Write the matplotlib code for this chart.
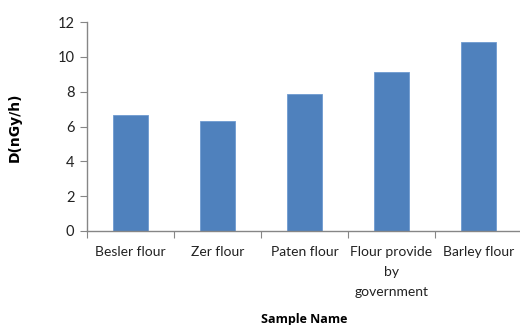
import matplotlib
matplotlib.use('Agg')
import matplotlib.pyplot as plt

# dose rate per flour sample
samples = ['Besler flour', 'Zer flour', 'Paten flour', 'Flour provide\nby\ngovernment', 'Barley flour']
dose = [6.64, 6.33, 7.85, 9.15, 10.87]
yticks = [0, 2, 4, 6, 8, 10, 12]

plt.rcParams['font.family'] = ['Lato', 'DejaVu Sans']

fig = plt.figure(figsize=(5.2, 3.25), dpi=100)
ax = fig.add_axes([87 / 520, 1 - 231 / 325, 435 / 520, 209 / 325])

x = range(len(samples))
ax.bar(x, dose, width=0.4, color='#4F81BD', edgecolor='#6F9AD0', linewidth=0.6, zorder=2)

ax.set_xlim(-0.5, len(samples) - 0.5)
ax.set_ylim(0, 12)
ax.set_yticks(yticks)
ax.set_yticklabels([str(t) for t in yticks], fontsize=10.5, color='#222222')

# category labels between boundary ticks
ax.set_xticks([i - 0.5 for i in range(len(samples) + 1)])
ax.set_xticklabels([])
ax.set_xticks(list(x), minor=True)
ax.set_xticklabels(samples, minor=True, fontsize=10, color='#222222', linespacing=1.8, va='top')
ax.tick_params(axis='x', which='minor', length=0, pad=11)
ax.tick_params(axis='x', which='major', length=5, color='#868686', direction='out')
ax.tick_params(axis='y', length=5, color='#868686', direction='out', pad=4)

for side in ['top', 'right']:
    ax.spines[side].set_visible(False)
for side in ['left', 'bottom']:
    ax.spines[side].set_color('#868686')
    ax.spines[side].set_linewidth(1.0)

fig.text(15 / 520, 1 - 127 / 325, 'D(nGy/h)', rotation=90, ha='center', va='center',
         fontsize=10, fontweight='bold', family=['DejaVu Sans'])
fig.text(304 / 520, 1 - 319 / 325, 'Sample Name', ha='center', va='center',
         fontsize=9, fontweight='bold', family=['Open Sans', 'DejaVu Sans'])

plt.savefig('out.png', dpi=100)
